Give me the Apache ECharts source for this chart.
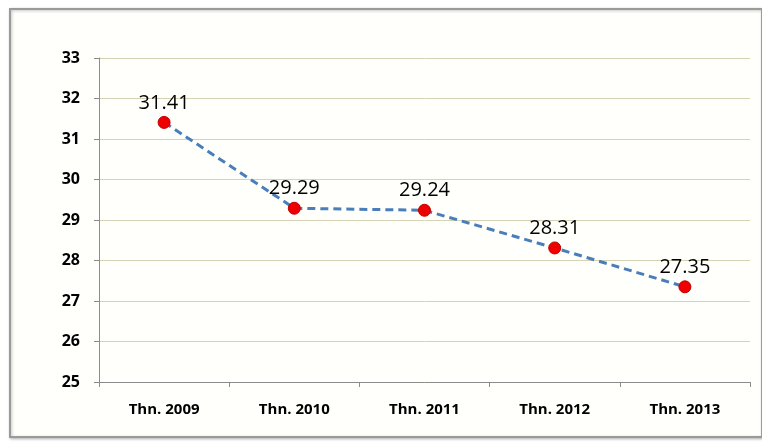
<!DOCTYPE html>
<html>
<head>
<meta charset="utf-8">
<script src="https://cdn.jsdelivr.net/npm/echarts@6/dist/echarts.min.js"></script>
<style>
  html, body { margin: 0; padding: 0; background: #ffffff; }
  #chart { width: 762px; height: 442px; }
</style>
</head>
<body>
<div id="chart"></div>
<script>
// Year categories along the bottom axis
const years = ['Thn. 2009', 'Thn. 2010', 'Thn. 2011', 'Thn. 2012', 'Thn. 2013'];
// Yearly values plotted on the dashed line
const values = [31.41, 29.29, 29.24, 28.31, 27.35];
// Value axis range and step
const yMin = 25;
const yMax = 33;
const yStep = 1;

const chart = echarts.init(document.getElementById('chart'), null, { renderer: 'canvas' });

chart.setOption({
  animation: false,
  backgroundColor: '#ffffff',
  graphic: [
    {
      type: 'rect',
      z: -10,
      shape: { x: 10, y: 9, width: 752, height: 428 },
      style: {
        fill: '#fffffc',
        stroke: '#9a9a9a',
        lineWidth: 2,
        shadowBlur: 3,
        shadowColor: 'rgba(0,0,0,0.25)',
        shadowOffsetX: 1,
        shadowOffsetY: 1
      }
    }
  ],
  grid: {
    left: 99,
    right: 12,
    top: 58,
    bottom: 60,
    containLabel: false
  },
  xAxis: {
    type: 'category',
    data: years,
    boundaryGap: true,
    axisLine: { show: true, lineStyle: { color: '#8c8c8c', width: 1 } },
    axisTick: { show: true, length: 5, inside: false, lineStyle: { color: '#8c8c8c' } },
    axisLabel: {
      color: '#000000',
      fontFamily: 'Open Sans',
      fontWeight: 'bold',
      fontSize: 15,
      margin: 20
    },
    splitLine: { show: false }
  },
  yAxis: {
    type: 'value',
    min: yMin,
    max: yMax,
    interval: yStep,
    axisLine: { show: true, lineStyle: { color: '#8c8c8c', width: 1 } },
    axisTick: { show: true, length: 5, lineStyle: { color: '#8c8c8c' } },
    axisLabel: {
      color: '#000000',
      fontFamily: 'Open Sans',
      fontWeight: 'bold',
      fontSize: 16,
      margin: 19
    },
    splitLine: { show: true, lineStyle: { color: '#d6d2b4', width: 1 } }
  },
  series: [
    {
      type: 'line',
      data: values,
      symbol: 'circle',
      symbolSize: 12,
      itemStyle: { color: '#ee0000', borderColor: '#c00000', borderWidth: 1 },
      lineStyle: { color: '#4a7ebb', width: 3, type: [8, 5] },
      label: {
        show: true,
        position: 'top',
        distance: 3,
        color: '#000000',
        fontFamily: 'Open Sans',
        fontSize: 20,
        formatter: p => p.value.toFixed(2)
      }
    }
  ]
});
</script>
</body>
</html>
